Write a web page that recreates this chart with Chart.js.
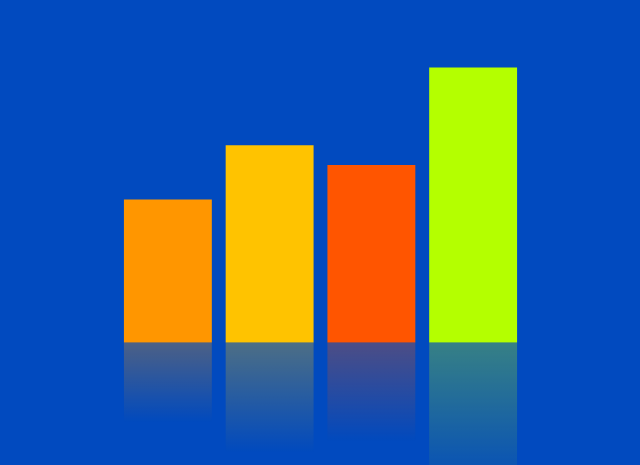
<!DOCTYPE html>
<html>
<head>
<meta charset="utf-8">
<script src="https://cdn.jsdelivr.net/npm/chart.js@4"></script>
<style>
html,body{margin:0;padding:0;background:#014abf;overflow:hidden;}
#wrap{width:640px;height:465px;position:relative;}
</style>
</head>
<body>
<div id="wrap"><canvas id="c"></canvas></div>
<script>
const categories = ["A", "B", "C", "D"];
const values = [52, 71.7, 64.5, 100];
const barColors = ["#ff9600", "#ffc300", "#ff5500", "#b4ff00"];
const reflection = values.map(v => -v);

const fade = 0.56;
function hexToRgba(hex, a) {
  const n = parseInt(hex.slice(1), 16);
  return `rgba(${(n >> 16) & 255},${(n >> 8) & 255},${n & 255},${a})`;
}

new Chart(document.getElementById('c'), {
  type: 'bar',
  data: {
    labels: categories,
    datasets: [
      {
        data: values,
        backgroundColor: barColors,
        borderWidth: 0,
        stack: 's'
      },
      {
        data: reflection,
        borderWidth: 0,
        stack: 's',
        backgroundColor: function (ctx) {
          const chart = ctx.chart;
          const y = chart.scales && chart.scales.y;
          if (!y || !chart.chartArea || ctx.dataIndex === undefined) return 'rgba(0,0,0,0)';
          const v = values[ctx.dataIndex];
          const y0 = y.getPixelForValue(0);
          const y1 = y.getPixelForValue(-v * fade);
          const g = chart.ctx.createLinearGradient(0, y0, 0, y1);
          const c = barColors[ctx.dataIndex];
          g.addColorStop(0, hexToRgba(c, 0.3));
          g.addColorStop(1, hexToRgba(c, 0));
          return g;
        }
      }
    ]
  },
  options: {
    responsive: true,
    maintainAspectRatio: false,
    animation: false,
    layout: { padding: { left: 117, right: 116, top: 0, bottom: 0 } },
    datasets: { bar: { barPercentage: 0.864, categoryPercentage: 1 } },
    plugins: { legend: { display: false }, tooltip: { enabled: false } },
    scales: {
      x: { display: false, stacked: true },
      y: { display: false, stacked: true, min: -44.5, max: 124.5 }
    }
  }
});
</script>
</body>
</html>
